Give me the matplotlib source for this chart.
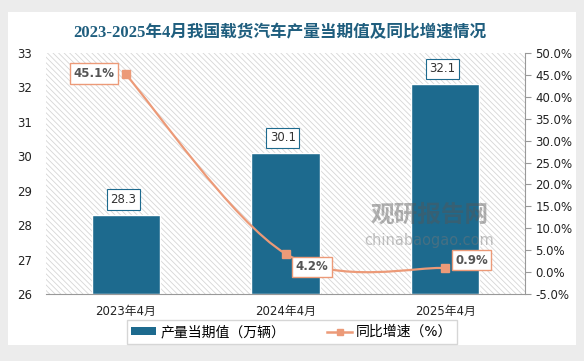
import numpy as np
import matplotlib
matplotlib.use('Agg')
import matplotlib.pyplot as plt
from matplotlib.path import Path
from matplotlib.patches import PathPatch, Rectangle, Patch
from matplotlib.lines import Line2D

plt.rcParams['font.family'] = ['DejaVu Sans', 'Noto Sans CJK SC']
plt.rcParams['hatch.linewidth'] = 0.6
plt.rcParams['hatch.color'] = '#d6d6d6'

# data
categories = ['2023年4月', '2024年4月', '2025年4月']
output = [28.3, 30.1, 32.1]          # 产量当期值（万辆）
growth = [45.1, 4.2, 0.9]            # 同比增速（%）
left_ticks = [26, 27, 28, 29, 30, 31, 32, 33]
right_ticks = [-5, 0, 5, 10, 15, 20, 25, 30, 35, 40, 45, 50]

bar_color = '#1d6a8e'
line_color = '#ec9a78'
title_color = '#1f5e7e'

fig = plt.figure(figsize=(5.84, 3.61), dpi=100)
fig.patch.set_facecolor('#ececec')
fig.patches.append(Rectangle((8 / 584, 1 - 345 / 361), 568 / 584, 333 / 361,
                             transform=fig.transFigure, facecolor='white',
                             edgecolor='none', zorder=-10))

ax = fig.add_axes([46 / 584, 1 - 294 / 361, 479 / 584, 241 / 361])
ax.set_facecolor('white')
ax.patch.set_hatch('\\\\\\\\\\\\')
ax.patch.set_edgecolor('#d6d6d6')
ax.patch.set_linewidth(0)

x = np.arange(len(categories))
ax.bar(x, [v - 26 for v in output], bottom=26, width=0.43, color=bar_color,
       edgecolor='white', linewidth=1, zorder=2)
for xi, v in zip(x, output):
    ax.annotate(f'{v:.1f}', (xi, v), xytext=(-2, 11), textcoords='offset points',
                ha='center', va='center', fontsize=8.5, color='#333333',
                bbox=dict(boxstyle='square,pad=0.3', fc='white', ec=bar_color, lw=0.8),
                zorder=5)

ax.set_xlim(-0.5, 2.5)
ax.set_ylim(26, 33)
ax.set_yticks(left_ticks)
ax.set_xticks(x)
ax.set_xticklabels(categories, fontsize=8.5, color='#222222')
ax.tick_params(axis='y', length=0, labelsize=8.5, labelcolor='#222222', pad=10)
ax.tick_params(axis='x', length=0, pad=8)
for s in ['top', 'right', 'left']:
    ax.spines[s].set_visible(False)
ax.spines['bottom'].set_color('#999999')

ax2 = ax.twinx()
ax2.set_ylim(-5, 50)
ax2.set_yticks(right_ticks)
ax2.set_yticklabels([f'{t:.1f}%' for t in right_ticks])
ax2.tick_params(axis='y', length=4, direction='out', labelsize=8.5,
                labelcolor='#222222', color='#999999')
for s in ['top', 'left', 'bottom']:
    ax2.spines[s].set_visible(False)
ax2.spines['right'].set_color('#999999')

# smoothed line (Bezier through data points)
pts = list(zip(x.astype(float), growth))
verts = [pts[0]]
codes = [Path.MOVETO]
n = len(pts)
for i in range(n - 1):
    p0 = pts[i - 1] if i > 0 else pts[i]
    p1 = pts[i]
    p2 = pts[i + 1]
    p3 = pts[i + 2] if i + 2 < n else pts[i + 1]
    c1 = (p1[0] + (p2[0] - p0[0]) / 6, p1[1] + (p2[1] - p0[1]) / 6)
    c2 = (p2[0] - (p3[0] - p1[0]) / 6, p2[1] - (p3[1] - p1[1]) / 6)
    verts += [c1, c2, p2]
    codes += [Path.CURVE4] * 3
ax2.add_patch(PathPatch(Path(verts, codes), fill=False, edgecolor=line_color,
                        lw=1.6, zorder=3))
ax2.plot(x, growth, linestyle='none', marker='s', markersize=6,
         color=line_color, zorder=4)

offsets = [(-23, 0.7), (19, -9.5), (19, 5.8)]
for xi, v, off in zip(x, growth, offsets):
    ax2.annotate(f'{v:.1f}%', (xi, v), xytext=off, textcoords='offset points',
                 ha='center', va='center', fontsize=8.5, color='#555555',
                 fontweight='bold',
                 bbox=dict(boxstyle='square,pad=0.3', fc='white', ec=line_color, lw=1),
                 zorder=5)

# watermark
fig.text(0.735, 0.405, '观研报告网', fontsize=17, fontweight='bold',
         color='#555555', alpha=0.45, ha='center', va='center',
         family=['Noto Sans CJK SC'])
fig.text(0.735, 0.335, 'chinabaogao.com', fontsize=10.5, color='#777777',
         alpha=0.45, ha='center', va='center')

fig.text(280 / 584, 1 - 33 / 361, '2023-2025年4月我国载货汽车产量当期值及同比增速情况',
         fontsize=12, fontweight='bold', color=title_color, ha='center', va='center',
         family=['Liberation Serif', 'Noto Sans CJK SC'])

handles = [Patch(facecolor=bar_color, edgecolor='none'),
           Line2D([0], [0], color=line_color, lw=1.8, marker='s', markersize=5)]
fig.legend(handles, ['产量当期值（万辆）', '同比增速（%）'], loc='center',
           bbox_to_anchor=(292 / 584, 1 - 332 / 361), ncol=2,
           frameon=True, fancybox=False, edgecolor='#cccccc', handlelength=1.8,
           handleheight=0.5, handletextpad=0.3, columnspacing=3.0, borderpad=0.35,
           prop={'family': ['DejaVu Sans', 'Noto Sans CJK SC'], 'size': 10})

fig.savefig('out.png', dpi=100, facecolor=fig.get_facecolor())
